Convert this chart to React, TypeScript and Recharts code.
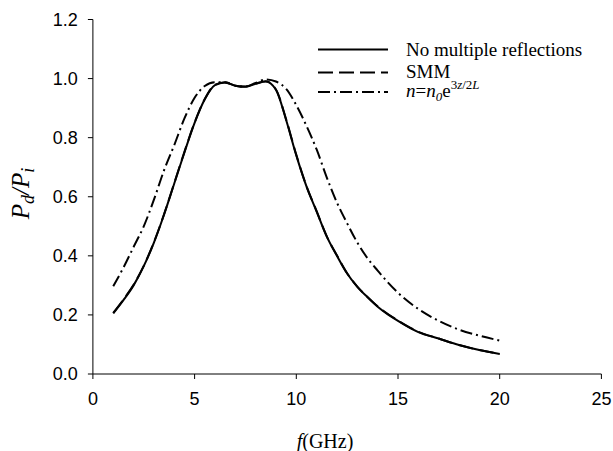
import React from 'react';
import { LineChart, Line, XAxis, YAxis, Legend } from 'recharts';

const freq = [1, 1.5, 2, 2.5, 3, 3.5, 4, 4.5, 5, 5.5, 6, 6.5, 7, 7.5, 8, 8.5, 9, 9.5, 10, 10.5, 11, 11.5, 12, 12.5, 13, 13.5, 14, 14.5, 15, 16, 17, 18, 19, 20];
const noMultiple = [0.205, 0.25, 0.3, 0.365, 0.445, 0.54, 0.645, 0.75, 0.85, 0.93, 0.978, 0.987, 0.976, 0.972, 0.982, 0.99, 0.962, 0.86, 0.74, 0.635, 0.55, 0.465, 0.4, 0.34, 0.295, 0.26, 0.228, 0.202, 0.18, 0.142, 0.12, 0.098, 0.081, 0.068];
const smm = [0.207, 0.252, 0.302, 0.366, 0.446, 0.541, 0.646, 0.752, 0.851, 0.931, 0.979, 0.988, 0.976, 0.973, 0.983, 0.991, 0.963, 0.862, 0.742, 0.636, 0.551, 0.466, 0.401, 0.341, 0.296, 0.261, 0.229, 0.203, 0.181, 0.143, 0.12, 0.098, 0.081, 0.068];
const expProfile = [0.297, 0.36, 0.43, 0.5, 0.59, 0.69, 0.775, 0.865, 0.935, 0.975, 0.988, 0.987, 0.976, 0.973, 0.985, 0.997, 0.99, 0.965, 0.91, 0.84, 0.76, 0.665, 0.58, 0.51, 0.445, 0.392, 0.35, 0.31, 0.275, 0.22, 0.18, 0.15, 0.13, 0.113];

const xTicks = [0, 5, 10, 15, 20, 25];
const yTicks = [0, 0.2, 0.4, 0.6, 0.8, 1.0, 1.2];
const seriesNames = ['No multiple reflections', 'SMM', 'n=n0e^3z/2L'];

const data = freq.map((f, i) => ({ f, a: noMultiple[i], b: smm[i], c: expProfile[i] }));

const serif = '"Liberation Serif", "Times New Roman", serif';
const sans = '"Liberation Sans", Arial, sans-serif';

const LegendContent = () => {
  const rows = [
    { y: 9.5, dash: undefined as string | undefined },
    { y: 32.5, dash: '15 6' },
    { y: 52, dash: '12 4 2 4' },
  ];
  return (
    <svg width={290} height={70} style={{ overflow: 'visible', display: 'block' }}>
      {rows.map((r, i) => (
        <line key={i} x1={0} x2={70} y1={r.y} y2={r.y} stroke="#000" strokeWidth={2} strokeDasharray={r.dash} />
      ))}
      <text x={88} y={16} fontFamily={serif} fontSize={19} fill="#000">{seriesNames[0]}</text>
      <text x={88} y={38} fontFamily={serif} fontSize={19} fill="#000">{seriesNames[1]}</text>
      <text x={88} y={57} fontFamily={serif} fontSize={19} fill="#000">
        <tspan fontStyle="italic">n</tspan>
        <tspan>=</tspan>
        <tspan fontStyle="italic">n</tspan>
        <tspan fontStyle="italic" fontSize={13} dy={4}>0</tspan>
        <tspan dy={-4}>e</tspan>
        <tspan fontSize={13} dy={-8}>3</tspan>
        <tspan fontSize={13} fontStyle="italic">z</tspan>
        <tspan fontSize={13}>/2</tspan>
        <tspan fontSize={13} fontStyle="italic">L</tspan>
      </text>
    </svg>
  );
};

const YLabel = () => (
  <text x={29} y={193.5} transform="rotate(-90, 29, 193.5)" textAnchor="middle" fontFamily={serif} fontSize={25} fontStyle="italic" fill="#000">
    <tspan>P</tspan>
    <tspan fontSize={18} dy={5}>d</tspan>
    <tspan dy={-5}>/</tspan>
    <tspan>P</tspan>
    <tspan fontSize={18} dy={5}>i</tspan>
  </text>
);

const XLabel = () => (
  <text x={325} y={448} textAnchor="middle" fontFamily={serif} fontSize={20} fill="#000">
    <tspan fontStyle="italic">f</tspan>
    <tspan>(GHz)</tspan>
  </text>
);

export default function App() {
  return (
    <div style={{ position: 'fixed', left: 0, top: 0, width: 613, height: 451, overflow: 'hidden', background: '#fff' }}>
      <LineChart width={613} height={451} data={data} margin={{ top: 19.5, right: 11.6, bottom: 0, left: 0 }}>
        <XAxis
          dataKey="f"
          type="number"
          domain={[0, 25]}
          ticks={xTicks}
          height={77}
          stroke="#000"
          tickSize={5}
          tickMargin={13}
          tick={{ fill: '#000', fontSize: 18, fontFamily: sans }}
          label={{ content: <XLabel /> }}
        />
        <YAxis
          type="number"
          domain={[0, 1.2]}
          ticks={yTicks}
          width={92.9}
          stroke="#000"
          tickSize={5}
          tickMargin={10}
          tickFormatter={(v: number) => v.toFixed(1)}
          tick={{ fill: '#000', fontSize: 18, fontFamily: sans }}
          label={{ content: <YLabel /> }}
        />
        <Legend
          layout="vertical"
          align="center"
          verticalAlign="middle"
          content={<LegendContent />}
          wrapperStyle={{ position: 'absolute', left: 318, top: 40, width: 290, height: 70 }}
        />
        <Line dataKey="a" name={seriesNames[0]} type="monotone" stroke="#000" strokeWidth={2} dot={false} isAnimationActive={false} />
        <Line dataKey="b" name={seriesNames[1]} type="monotone" stroke="#000" strokeWidth={2} strokeDasharray="15 6" dot={false} isAnimationActive={false} />
        <Line dataKey="c" name={seriesNames[2]} type="monotone" stroke="#000" strokeWidth={2} strokeDasharray="12 4 2 4" dot={false} isAnimationActive={false} />
      </LineChart>
    </div>
  );
}
